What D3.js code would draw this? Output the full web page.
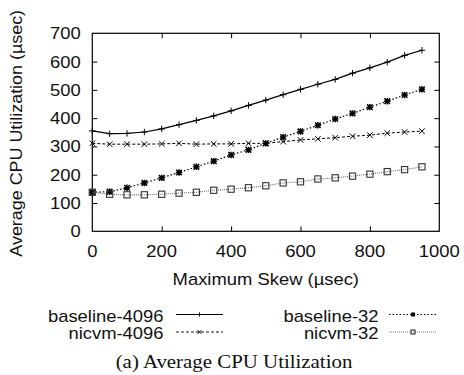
<!DOCTYPE html>
<html><head><meta charset="utf-8">
<script src="https://cdn.jsdelivr.net/npm/d3@7"></script>
<style>body{margin:0;background:#fff}svg{display:block}</style>
</head><body>
<svg id="c" width="464" height="375"></svg>
<script>
const skew = [0,50,100,150,200,250,300,350,400,450,500,550,600,650,700,750,800,850,900,950];
const baseline4096 = [355,345,346,351,362,377,392,408,426,445,464,483,502,520,537,559,578,598,622,640];
const nicvm4096    = [311,308,308,308,309,311,308,309,309,311,311,317,323,327,331,336,340,347,351,354];
const baseline32   = [138,140,154,171,189,208,228,248,270,288,311,333,353,375,397,417,439,460,482,502];
const nicvm32      = [138,131,129,129,131,135,138,145,149,154,161,171,175,185,189,195,202,211,218,228];
const xTicks = [0,200,400,600,800,1000];
const yTicks = [0,100,200,300,400,500,600,700];
const seriesNames = ["baseline-4096","nicvm-4096","baseline-32","nicvm-32"];

const svg = d3.select("#c");
const L=92.3, R=439.3, T=33.3, B=231.3;
const x = d3.scaleLinear().domain([0,1000]).range([L,R]);
const y = d3.scaleLinear().domain([0,700]).range([B,T]);
const SX = 1.15;
const sans = "'Liberation Sans', Arial, Helvetica, sans-serif";
const serif = "'Liberation Serif', 'Times New Roman', serif";

function stext(px,py,str,anchor,size,fam,sx,rot){
  return svg.append("text")
    .attr("transform",`translate(${px},${py})${rot?` rotate(${rot})`:""} scale(${sx},1)`)
    .attr("text-anchor",anchor).attr("font-size",size).attr("font-family",fam)
    .attr("fill","#111").text(str);
}

// axes (ticks inside on all sides)
const gL = svg.append("g").attr("transform",`translate(${L},0)`)
  .call(d3.axisRight(y).tickValues(yTicks.slice(1,-1)).tickSize(5).tickFormat(""));
const gR = svg.append("g").attr("transform",`translate(${R},0)`)
  .call(d3.axisLeft(y).tickValues(yTicks.slice(1,-1)).tickSize(5).tickFormat(""));
const gB = svg.append("g").attr("transform",`translate(0,${B})`)
  .call(d3.axisTop(x).tickValues(xTicks.slice(1,-1)).tickSize(5).tickFormat(""));
const gT = svg.append("g").attr("transform",`translate(0,${T})`)
  .call(d3.axisBottom(x).tickValues(xTicks.slice(1,-1)).tickSize(5).tickFormat(""));
[gL,gR,gB,gT].forEach(g=>{g.select(".domain").remove();g.selectAll("line").attr("stroke","#000").attr("stroke-width",1);});
svg.append("rect").attr("x",L).attr("y",T).attr("width",R-L).attr("height",B-T)
  .attr("fill","none").attr("stroke","#000").attr("stroke-width",1.2);

// tick labels
yTicks.forEach(v=>stext(L-11.5,y(v)+6,String(v),"end",16,sans,SX));
xTicks.forEach(v=>stext(x(v),256.5,String(v),"middle",16,sans,SX));

// titles
stext((L+R)/2,284.5,"Maximum Skew (µsec)","middle",16,sans,SX);
stext(21.5,(T+B)/2+1,"Average CPU Utilization (µsec)","middle",16,sans,1.12,-90);
stext(234,368,"(a) Average CPU Utilization","middle",18,serif,1.16);

// marker drawing
function marker(g,type,cx,cy,col,k){
  const s=3.2*k, t=2.8*k;
  if(type==="plus"){
    g.append("path").attr("d",`M${cx-s},${cy}H${cx+s}M${cx},${cy-s}V${cy+s}`).attr("stroke",col).attr("stroke-width",1).attr("fill","none");
  } else if(type==="cross"){
    g.append("path").attr("d",`M${cx-t},${cy-t}L${cx+t},${cy+t}M${cx-t},${cy+t}L${cx+t},${cy-t}`).attr("stroke",col).attr("stroke-width",1).attr("fill","none");
  } else if(type==="star"){
    g.append("path").attr("d",`M${cx-s},${cy}H${cx+s}M${cx},${cy-s}V${cy+s}M${cx-t},${cy-t}L${cx+t},${cy+t}M${cx-t},${cy+t}L${cx+t},${cy-t}`).attr("stroke",col).attr("stroke-width",1.5).attr("fill","none");
  } else if(type==="square"){
    const h=3.1*k;
    g.append("rect").attr("x",cx-h).attr("y",cy-h).attr("width",2*h).attr("height",2*h).attr("stroke",col).attr("stroke-width",1.1).attr("fill","none");
  }
}

const series = [
  {name:seriesNames[0], vals:baseline4096, stroke:"#000", dash:null, w:1.2, mk:"plus", mcol:"#000"},
  {name:seriesNames[1], vals:nicvm4096, stroke:"#000", dash:"3,2", w:1, mk:"cross", mcol:"#000"},
  {name:seriesNames[2], vals:baseline32, stroke:"#000", dash:"1.5,2", w:1.2, mk:"star", mcol:"#000"},
  {name:seriesNames[3], vals:nicvm32, stroke:"#777", dash:"1,1", w:1.2, mk:"square", mcol:"#333"}
];
const line = d3.line().x((d,i)=>x(skew[i])).y(d=>y(d));
series.forEach(s=>{
  const g=svg.append("g");
  g.append("path").attr("d",line(s.vals)).attr("fill","none").attr("stroke",s.stroke)
    .attr("stroke-width",s.w).attr("stroke-dasharray",s.dash);
  s.vals.forEach((v,i)=>marker(g,s.mk,x(skew[i]),y(v),s.mcol,1));
});

// legend
const leg = [
  {tx:163.5, ty:321.5, lx0:176, lx1:223, ly:314.5},
  {tx:163.5, ty:338.5, lx0:176, lx1:223, ly:332},
  {tx:378.5, ty:321.5, lx0:389, lx1:437, ly:314.5},
  {tx:378.5, ty:338.5, lx0:389, lx1:437, ly:332}
];
series.forEach((s,i)=>{
  const p=leg[i];
  stext(p.tx,p.ty,s.name,"end",16,sans,SX);
  const g=svg.append("g");
  g.append("line").attr("x1",p.lx0).attr("x2",p.lx1).attr("y1",p.ly).attr("y2",p.ly)
    .attr("stroke",s.stroke).attr("stroke-width",s.w*0.9).attr("stroke-dasharray",s.dash);
  marker(g,s.mk,(p.lx0+p.lx1)/2,p.ly,s.mcol,0.65);
});
</script>
</body></html>
